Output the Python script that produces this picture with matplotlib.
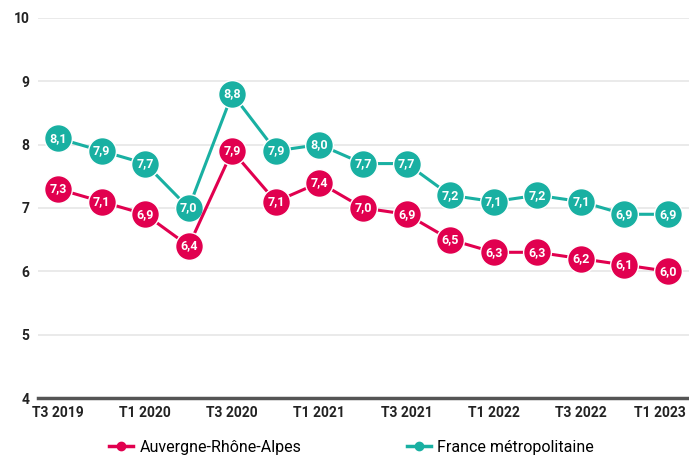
import matplotlib
matplotlib.use("Agg")
import matplotlib.pyplot as plt
import matplotlib.transforms as mtransforms
from matplotlib.lines import Line2D

plt.rcParams['font.family'] = ['Roboto', 'DejaVu Sans']

quarters = ["T3 2019", "T4 2019", "T1 2020", "T2 2020", "T3 2020", "T4 2020", "T1 2021",
            "T2 2021", "T3 2021", "T4 2021", "T1 2022", "T2 2022", "T3 2022", "T4 2022", "T1 2023"]
aura = [7.3, 7.1, 6.9, 6.4, 7.9, 7.1, 7.4, 7.0, 6.9, 6.5, 6.3, 6.3, 6.2, 6.1, 6.0]
france = [8.1, 7.9, 7.7, 7.0, 8.8, 7.9, 8.0, 7.7, 7.7, 7.2, 7.1, 7.2, 7.1, 6.9, 6.9]
series_names = ["Auvergne-Rhône-Alpes", "France métropolitaine"]
yticks = [4, 5, 6, 7, 8, 9, 10]

red = "#E1004F"
teal = "#19B0A2"

fig = plt.figure(figsize=(6.89, 4.57), dpi=100)
ax = fig.add_axes([0.055, 0.129, 0.945, 0.832])
x = list(range(len(quarters)))

for vals, col in [(france, teal), (aura, red)]:
    ax.plot(x, vals, color=col, lw=2.2, marker='o', ms=20, mfc=col, mec='white', mew=1.0, zorder=3)
    for xi, v in zip(x, vals):
        ax.text(xi, v, f"{v:.1f}".replace('.', ','), color='white', ha='center', va='center',
                fontsize=9, fontweight='bold', zorder=4)

ax.set_ylim(4, 10)
ax.set_xlim(-0.46, len(quarters) - 1 + 0.48)
ax.set_yticks(yticks)
ax.set_yticklabels([str(t) for t in yticks], fontsize=10, fontweight='bold', color='#222222')
ax.set_xticks(x[::2])
ax.set_xticklabels(quarters[::2], fontsize=10, fontweight='bold', color='#222222')
ax.tick_params(axis='both', length=0, pad=6)
ax.grid(axis='y', color='#e6e6e6', lw=1.2)
ax.set_axisbelow(True)
for s in ['top', 'right', 'left']:
    ax.spines[s].set_visible(False)
ax.spines['bottom'].set_color('#555555')
ax.spines['bottom'].set_linewidth(2.5)

last = ax.get_xticklabels()[-1]
last.set_transform(last.get_transform() + mtransforms.ScaledTranslation(-6/72, 0, fig.dpi_scale_trans))

handles = [Line2D([0], [0], color=red, lw=2.5, marker='o', ms=6),
           Line2D([0], [0], color=teal, lw=2.5, marker='o', ms=6)]
fig.legend(handles, series_names, loc='lower center', bbox_to_anchor=(0.51, -0.026), ncol=2,
           frameon=False, fontsize=11.5, handlelength=1.5, handletextpad=0.4, columnspacing=6.6)

fig.savefig("out.png", dpi=100)
